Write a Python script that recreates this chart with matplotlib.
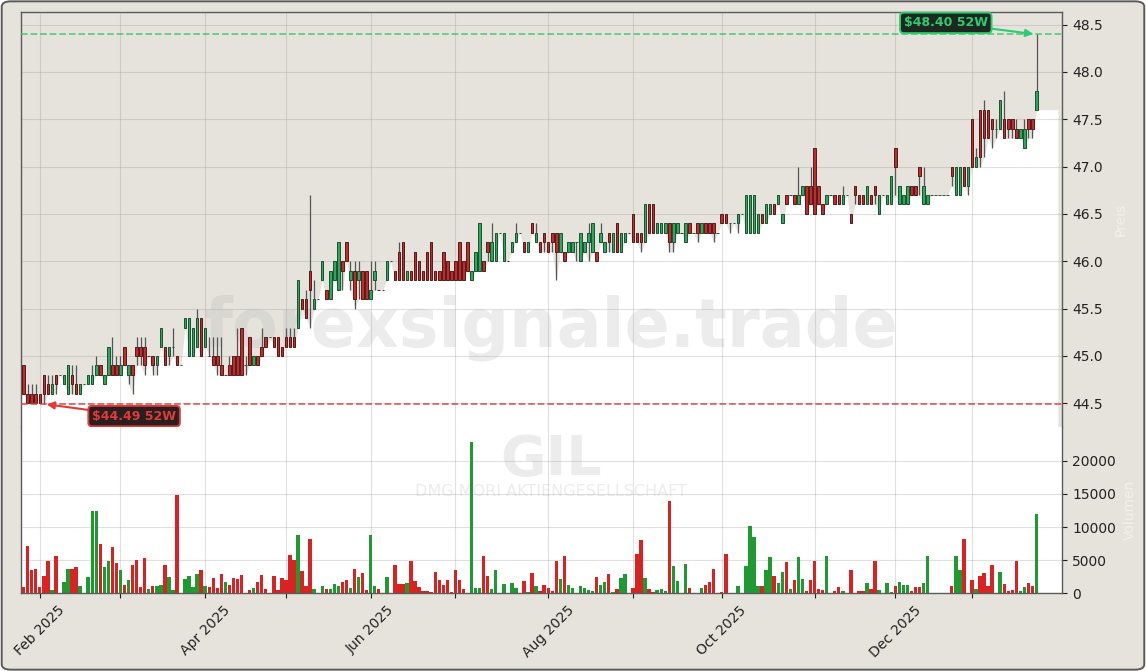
# GIL daily candles with volume

import numpy as np
import pandas as pd
import matplotlib
matplotlib.use('Agg')
import matplotlib.pyplot as plt
from matplotlib.patches import FancyBboxPatch

#-------------------------------------------------------------
# Data
holidays = ['2025-04-18', '2025-04-21', '2025-05-01', '2025-12-24',
            '2025-12-25', '2025-12-26', '2025-12-31', '2026-01-01']
dates = pd.bdate_range('2025-01-28', '2026-01-26', freq='C', holidays=holidays)

opens = [
    44.9, 44.6, 44.6, 44.6, 44.6, 44.8, 44.7, 44.6, 44.8, 44.8,
    44.7, 44.6, 44.8, 44.7, 44.6, 44.7, 44.7, 44.7, 44.8, 44.9,
    44.7, 44.8, 44.9, 44.9, 44.8, 45.1, 44.8, 44.9, 45.1, 45.1,
    45.1, 45.0, 45.0, 44.9, 45.1, 45.1, 45.0, 45.1, 45.0, 44.9,
    45.3, 45.0, 45.0, 45.1, 45.4, 45.1, 45.0, 45.0, 45.0, 44.9,
    44.8, 44.9, 45.0, 45.0, 45.3, 44.9, 45.2, 44.9, 45.0, 45.1,
    45.2, 45.2, 45.2, 45.2, 45.1, 45.2, 45.2, 45.2, 45.3, 45.6,
    45.6, 45.9, 45.5, 45.6, 45.8, 45.7, 45.6, 45.8, 45.7, 46.0,
    46.2, 45.8, 45.9, 45.8, 45.9, 45.9, 45.6, 45.8, 45.7, 45.7,
    45.8, 46.0, 45.9, 46.1, 46.2, 45.8, 45.9, 46.1, 46.0, 45.9,
    46.1, 46.2, 45.9, 45.9, 46.1, 46.0, 45.9, 46.0, 46.2, 46.0,
    46.2, 45.8, 45.9, 45.9, 46.0, 46.2, 46.0, 46.0, 46.3, 46.0,
    46.0, 46.1, 46.2, 46.3, 46.2, 46.1, 46.4, 46.2, 46.2, 46.3,
    46.2, 46.3, 46.3, 46.1, 46.1, 46.1, 46.1, 46.2, 46.0, 46.1,
    46.2, 46.1, 46.1, 46.2, 46.1, 46.3, 46.1, 46.4, 46.1, 46.2,
    46.3, 46.5, 46.3, 46.3, 46.2, 46.6, 46.6, 46.3, 46.3, 46.3,
    46.4, 46.2, 46.3, 46.3, 46.2, 46.4, 46.3, 46.4, 46.3, 46.4,
    46.4, 46.4, 46.3, 46.5, 46.5, 46.4, 46.4, 46.4, 46.5, 46.3,
    46.3, 46.3, 46.3, 46.5, 46.4, 46.5, 46.6, 46.6, 46.4, 46.7,
    46.7, 46.7, 46.6, 46.7, 46.8, 46.8, 47.2, 46.8, 46.6, 46.6,
    46.7, 46.7, 46.7, 46.6, 46.7, 46.5, 46.8, 46.7, 46.7, 46.6,
    46.7, 46.8, 46.5, 46.7, 46.6, 46.6, 47.2, 46.6, 46.6, 46.6,
    46.8, 46.8, 47.0, 46.6, 46.6, 46.7, 46.7, 46.7, 46.7, 46.7,
    47.0, 46.7, 46.7, 47.0, 46.8, 47.5, 47.0, 47.6, 47.6, 47.6,
    47.5, 47.4, 47.4, 47.5, 47.5, 47.5, 47.4, 47.3, 47.2, 47.5,
    47.5, 47.6]
highs = [
    44.9, 44.7, 44.7, 44.7, 44.6, 44.8, 44.8, 44.8, 44.8, 44.8,
    44.8, 44.9, 44.9, 44.9, 44.7, 44.7, 44.8, 44.9, 45.0, 44.9,
    44.8, 45.1, 45.2, 45.0, 45.0, 45.1, 44.9, 44.9, 45.2, 45.2,
    45.2, 45.0, 45.0, 45.0, 45.3, 45.1, 45.1, 45.3, 45.0, 44.9,
    45.4, 45.4, 45.3, 45.5, 45.4, 45.3, 45.2, 45.2, 45.2, 45.2,
    44.8, 45.0, 45.0, 45.3, 45.3, 45.0, 45.2, 45.0, 45.0, 45.3,
    45.2, 45.2, 45.2, 45.2, 45.1, 45.3, 45.3, 45.3, 45.8, 45.6,
    45.7, 46.7, 45.8, 45.6, 46.0, 45.7, 45.9, 46.0, 46.2, 46.0,
    46.2, 46.0, 46.0, 46.0, 45.9, 45.9, 46.0, 46.0, 45.7, 45.7,
    46.0, 46.0, 45.9, 46.2, 46.2, 45.9, 45.9, 46.1, 46.0, 45.9,
    46.1, 46.2, 45.9, 45.9, 46.1, 46.0, 45.9, 46.0, 46.2, 46.0,
    46.2, 45.9, 46.1, 46.4, 46.0, 46.2, 46.4, 46.3, 46.3, 46.3,
    46.0, 46.2, 46.4, 46.3, 46.2, 46.2, 46.4, 46.4, 46.2, 46.3,
    46.2, 46.3, 46.3, 46.3, 46.1, 46.2, 46.2, 46.2, 46.3, 46.2,
    46.4, 46.4, 46.1, 46.4, 46.2, 46.3, 46.3, 46.4, 46.3, 46.3,
    46.3, 46.5, 46.3, 46.3, 46.6, 46.6, 46.6, 46.4, 46.4, 46.4,
    46.4, 46.4, 46.4, 46.3, 46.4, 46.4, 46.3, 46.4, 46.4, 46.4,
    46.4, 46.4, 46.3, 46.5, 46.5, 46.4, 46.4, 46.5, 46.5, 46.7,
    46.7, 46.7, 46.5, 46.5, 46.6, 46.6, 46.6, 46.7, 46.5, 46.7,
    46.7, 46.7, 47.0, 46.8, 46.8, 47.0, 47.2, 46.8, 46.6, 46.7,
    46.7, 46.7, 46.7, 46.8, 46.7, 46.5, 46.8, 46.7, 46.7, 46.8,
    46.7, 46.8, 46.7, 46.7, 46.7, 46.9, 47.2, 46.8, 46.7, 46.8,
    46.8, 46.8, 47.0, 47.0, 46.7, 46.7, 46.7, 46.7, 46.7, 46.7,
    47.0, 47.0, 47.0, 47.0, 47.0, 47.5, 47.2, 47.6, 47.7, 47.6,
    47.5, 47.5, 47.7, 47.8, 47.5, 47.5, 47.5, 47.4, 47.5, 47.5,
    47.5, 48.4]
lows = [
    44.6, 44.5, 44.5, 44.5, 44.5, 44.49, 44.6, 44.6, 44.6, 44.8,
    44.7, 44.6, 44.6, 44.6, 44.6, 44.7, 44.7, 44.7, 44.8, 44.8,
    44.7, 44.8, 44.8, 44.8, 44.8, 44.9, 44.7, 44.6, 44.9, 44.9,
    44.8, 45.0, 44.8, 44.8, 45.1, 44.9, 44.9, 45.0, 44.9, 44.9,
    45.3, 45.0, 45.0, 45.1, 45.0, 45.1, 45.0, 44.9, 44.8, 44.8,
    44.8, 44.8, 44.8, 44.8, 44.8, 44.8, 44.9, 44.9, 44.9, 45.0,
    45.1, 45.2, 45.1, 45.0, 45.0, 45.1, 45.1, 45.1, 45.3, 45.5,
    45.4, 45.3, 45.5, 45.6, 45.8, 45.6, 45.6, 45.8, 45.7, 45.7,
    46.0, 45.7, 45.5, 45.6, 45.6, 45.6, 45.6, 45.7, 45.7, 45.7,
    45.8, 46.0, 45.8, 45.8, 45.8, 45.8, 45.8, 45.8, 45.8, 45.8,
    45.8, 45.8, 45.8, 45.8, 45.8, 45.8, 45.8, 45.8, 45.8, 45.8,
    45.9, 45.8, 45.9, 45.9, 45.9, 46.0, 46.0, 46.0, 46.3, 46.0,
    46.0, 46.1, 46.2, 46.3, 46.1, 46.1, 46.3, 46.2, 46.1, 46.1,
    46.1, 46.1, 45.8, 46.1, 46.0, 46.1, 46.1, 46.0, 46.0, 46.1,
    46.0, 46.1, 46.0, 46.2, 46.1, 46.1, 46.1, 46.1, 46.1, 46.2,
    46.3, 46.2, 46.2, 46.1, 46.2, 46.3, 46.3, 46.3, 46.3, 46.3,
    46.1, 46.1, 46.3, 46.3, 46.2, 46.3, 46.3, 46.2, 46.3, 46.3,
    46.3, 46.2, 46.3, 46.4, 46.4, 46.3, 46.4, 46.3, 46.5, 46.3,
    46.3, 46.3, 46.3, 46.4, 46.4, 46.5, 46.5, 46.6, 46.4, 46.6,
    46.7, 46.6, 46.6, 46.7, 46.5, 46.6, 46.5, 46.6, 46.5, 46.6,
    46.7, 46.6, 46.6, 46.6, 46.7, 46.4, 46.6, 46.6, 46.6, 46.6,
    46.6, 46.6, 46.5, 46.7, 46.6, 46.6, 46.7, 46.6, 46.6, 46.6,
    46.7, 46.7, 46.7, 46.6, 46.6, 46.7, 46.7, 46.7, 46.7, 46.7,
    46.8, 46.7, 46.7, 46.8, 46.7, 47.0, 47.0, 47.0, 47.1, 47.3,
    47.2, 47.3, 47.4, 47.3, 47.3, 47.3, 47.3, 47.3, 47.2, 47.3,
    47.3, 47.6]
closes = [
    44.6, 44.5, 44.5, 44.5, 44.5, 44.6, 44.6, 44.7, 44.7, 44.8,
    44.8, 44.9, 44.7, 44.6, 44.7, 44.7, 44.8, 44.8, 44.9, 44.8,
    44.8, 45.1, 44.8, 44.8, 44.9, 44.9, 44.9, 44.8, 45.0, 45.0,
    44.9, 45.0, 44.9, 45.0, 45.3, 44.9, 45.1, 45.1, 44.9, 44.9,
    45.4, 45.4, 45.3, 45.4, 45.0, 45.3, 45.0, 44.9, 44.9, 44.8,
    44.8, 44.8, 44.8, 44.8, 44.8, 44.9, 44.9, 45.0, 44.9, 45.0,
    45.1, 45.2, 45.1, 45.0, 45.0, 45.1, 45.1, 45.1, 45.8, 45.5,
    45.4, 45.7, 45.6, 45.6, 46.0, 45.6, 45.9, 46.0, 46.2, 45.9,
    46.0, 45.9, 45.6, 45.9, 45.6, 45.6, 45.7, 45.9, 45.7, 45.7,
    46.0, 46.0, 45.8, 45.8, 45.8, 45.9, 45.8, 45.8, 45.8, 45.8,
    45.8, 45.8, 45.8, 45.8, 45.8, 45.8, 45.8, 45.8, 45.8, 45.8,
    45.9, 45.9, 46.1, 46.4, 45.9, 46.1, 46.2, 46.3, 46.3, 46.3,
    46.0, 46.2, 46.3, 46.3, 46.1, 46.2, 46.3, 46.3, 46.1, 46.2,
    46.1, 46.2, 46.1, 46.3, 46.0, 46.2, 46.2, 46.2, 46.3, 46.2,
    46.3, 46.4, 46.0, 46.3, 46.2, 46.2, 46.3, 46.1, 46.3, 46.3,
    46.3, 46.2, 46.2, 46.2, 46.6, 46.3, 46.3, 46.4, 46.4, 46.4,
    46.2, 46.4, 46.4, 46.3, 46.4, 46.3, 46.3, 46.3, 46.4, 46.3,
    46.3, 46.3, 46.3, 46.4, 46.4, 46.4, 46.4, 46.5, 46.5, 46.7,
    46.7, 46.7, 46.5, 46.4, 46.6, 46.6, 46.5, 46.7, 46.5, 46.6,
    46.7, 46.6, 46.7, 46.8, 46.5, 46.6, 46.5, 46.6, 46.5, 46.7,
    46.7, 46.6, 46.6, 46.7, 46.7, 46.4, 46.7, 46.6, 46.6, 46.8,
    46.6, 46.7, 46.7, 46.7, 46.7, 46.9, 47.0, 46.8, 46.7, 46.8,
    46.7, 46.7, 46.9, 46.8, 46.7, 46.7, 46.7, 46.7, 46.7, 46.7,
    46.9, 47.0, 47.0, 46.8, 47.0, 47.0, 47.1, 47.1, 47.3, 47.3,
    47.4, 47.4, 47.7, 47.3, 47.4, 47.4, 47.3, 47.4, 47.4, 47.4,
    47.4, 47.8]
volumes = [
    1000, 7150, 3500, 3600, 1000, 2600, 4900, 500, 5600, 0,
    1700, 3700, 3700, 4000, 1100, 0, 2500, 12400, 12400, 7450,
    4000, 4900, 7000, 4600, 3500, 1250, 2000, 4300, 5000, 1000,
    5400, 650, 1100, 1150, 1250, 4300, 2500, 500, 14850, 0,
    2150, 2600, 1000, 2900, 3500, 1100, 950, 2300, 800, 2900,
    1700, 1200, 2300, 2150, 2750, 0, 500, 800, 1700, 2750,
    650, 0, 2600, 500, 2300, 2000, 5800, 5000, 8800, 3400,
    1100, 8200, 650, 0, 1100, 650, 650, 1400, 1100, 1700,
    2000, 800, 3700, 2450, 3050, 500, 8800, 1100, 650, 0,
    2450, 0, 4300, 1400, 1400, 1550, 4900, 1850, 950, 350,
    350, 200, 3200, 2000, 1250, 2000, 200, 3500, 2000, 650,
    0, 22850, 800, 800, 5650, 2600, 650, 3500, 0, 1400,
    0, 1550, 800, 0, 1850, 200, 3050, 1100, 350, 1250,
    800, 350, 4900, 2150, 5650, 1250, 800, 0, 1100, 800,
    500, 350, 2450, 1250, 1700, 2900, 200, 650, 2300, 2900,
    0, 800, 5950, 8050, 2300, 650, 200, 500, 650, 350,
    13950, 4150, 1850, 0, 4450, 800, 0, 0, 800, 1250,
    1700, 3700, 0, 200, 5950, 0, 0, 1100, 0, 4150,
    10150, 8500, 1100, 1100, 3500, 5500, 2600, 1550, 3200, 4700,
    650, 2000, 5500, 2150, 350, 2000, 4900, 650, 500, 5650,
    0, 350, 950, 350, 0, 3500, 0, 350, 350, 1550,
    650, 4900, 500, 0, 1550, 200, 1100, 1700, 1250, 1250,
    350, 950, 950, 1550, 5650, 0, 0, 0, 0, 0,
    1100, 5650, 3500, 8200, 0, 2000, 650, 2600, 3050, 1100,
    4300, 0, 3200, 1400, 350, 500, 4900, 350, 950, 1550,
    1100, 12000]

#-------------------------------------------------------------
# Colours
BG = '#e6e3dd'
UP, UP_EDGE = '#2aa85c', '#1d4f31'
DN, DN_EDGE = '#c42a2a', '#4f1c1c'
VOL_UP, VOL_DN = '#1f9a32', '#d92323'
SPINE = '#5a5a5a'

o = np.array(opens); h = np.array(highs); l = np.array(lows); c = np.array(closes)
v = np.array(volumes)
x = np.arange(len(dates))
prev = np.r_[c[0], c[:-1]]
up = (c > o) | ((c == o) & (c >= prev))

XMIN, XMAX = -0.57, len(x) + 5.4
YMIN, YMAX = 44.25, 48.632

#-------------------------------------------------------------
# Figure
fig = plt.figure(figsize=(11.46, 6.71), dpi=100, facecolor='white')
fig.patches.append(FancyBboxPatch((0.0015, 0.002), 0.997, 0.996,
                                  boxstyle='round,pad=0,rounding_size=0.008',
                                  transform=fig.transFigure, fc=BG, ec=SPINE,
                                  lw=1.4, zorder=-10))

ax = fig.add_axes([0.0186, 0.3636, 0.9084, 0.6185], facecolor=BG)
axv = fig.add_axes([0.0186, 0.1158, 0.9084, 0.2478], facecolor='white', sharex=ax)

# white area below the lows
fx = np.r_[XMIN, x, x[-1] + 5.3]
fy = np.r_[l[0], l, l[-1]]
ax.fill_between(fx, fy, YMIN, color='white', lw=0, zorder=0.2)

# candles
ax.vlines(x, l, h, color='#555555', lw=0.9, zorder=2)
ax.bar(x, np.abs(c - o), 0.62, bottom=np.minimum(o, c),
       color=np.where(up, UP, DN), edgecolor=np.where(up, UP_EDGE, DN_EDGE),
       linewidth=0.7, zorder=3)

# 52 week high / low
hi, lo = h.max(), l.min()
i_hi, i_lo = int(h.argmax()), int(l.argmin())
ax.axhline(hi, color='#34c463', ls='--', lw=1.3, alpha=0.75, zorder=4)
ax.axhline(lo, color='#d64545', ls='--', lw=1.3, alpha=0.8, zorder=4)
ax.annotate(f'${hi:.2f} 52W', xy=(i_hi - 0.8, hi), xytext=(-63, 8),
            textcoords='offset points', ha='center', va='center',
            color='#2ecc71', fontsize=9, fontweight='bold', zorder=6,
            bbox=dict(boxstyle='round,pad=0.3', fc='#1c2820', ec='#2ecc71', lw=1.4),
            arrowprops=dict(arrowstyle='-|>', color='#2ecc71', lw=1.5,
                            mutation_scale=11, shrinkA=0, shrinkB=0))
ax.annotate(f'${lo:.2f} 52W', xy=(i_lo + 0.7, lo), xytext=(63, -8.5),
            textcoords='offset points', ha='center', va='center',
            color='#e03a3a', fontsize=9, fontweight='bold', zorder=6,
            bbox=dict(boxstyle='round,pad=0.3', fc='#2a1e1e', ec='#e03a3a', lw=1.4),
            arrowprops=dict(arrowstyle='-|>', color='#e03a3a', lw=1.5,
                            mutation_scale=11, shrinkA=0, shrinkB=0))

# volume
axv.bar(x, v, 0.85, color=np.where(up, VOL_UP, VOL_DN), lw=0, zorder=2)

#-------------------------------------------------------------
# Watermarks
ax.text(0.509, 0.24, 'forexsignale.trade', transform=ax.transAxes,
        ha='center', va='center', fontsize=48, fontweight='bold',
        color='#b4b4b4', alpha=0.25, zorder=1)
axv.text(0.509, 0.80, 'GIL', transform=axv.transAxes, ha='center', va='center',
         fontsize=40, fontweight='bold', color='#b4b4b4', alpha=0.25, zorder=1)
axv.text(0.509, 0.615, 'DMG MORI AKTIENGESELLSCHAFT', transform=axv.transAxes,
         ha='center', va='center', fontsize=11.5, color='#b4b4b4', alpha=0.25, zorder=1)

#-------------------------------------------------------------
# Axes styling
ax.set_xlim(XMIN, XMAX)
ax.set_ylim(YMIN, YMAX)
axv.set_ylim(0, 25100)

month_idx = [i for i in range(1, len(dates)) if dates[i].month != dates[i - 1].month]
month_lbl = [dates[i].strftime('%b %Y') if dates[i].month % 2 == 0 else '' for i in month_idx]
axv.set_xticks(month_idx)
axv.set_xticklabels(month_lbl, rotation=45)
plt.setp(ax.get_xticklabels(), visible=False)
ax.tick_params(axis='x', length=0)

ax.set_yticks(np.arange(44.5, 48.51, 0.5))
ax.yaxis.set_major_formatter(plt.FormatStrFormatter('%.1f'))
axv.set_yticks([0, 5000, 10000, 15000, 20000])

for a in (ax, axv):
    a.set_axisbelow(True)
    a.grid(True, color='#9a9a9a', alpha=0.3, lw=0.8)
    a.yaxis.tick_right()
    a.tick_params(labelsize=10, colors='#222222', length=3.5)
    for s in a.spines.values():
        s.set_color(SPINE)
        s.set_linewidth(1.0)
ax.spines['bottom'].set_visible(False)
axv.spines['top'].set_visible(False)

ax.yaxis.set_label_position('right')
axv.yaxis.set_label_position('right')
ax.set_ylabel('Preis', color='white', alpha=0.5, fontsize=10, labelpad=8)
axv.set_ylabel('Volumen', color='white', alpha=0.5, fontsize=10, labelpad=5)

fig.savefig('out.png', dpi=100, facecolor=fig.get_facecolor())
